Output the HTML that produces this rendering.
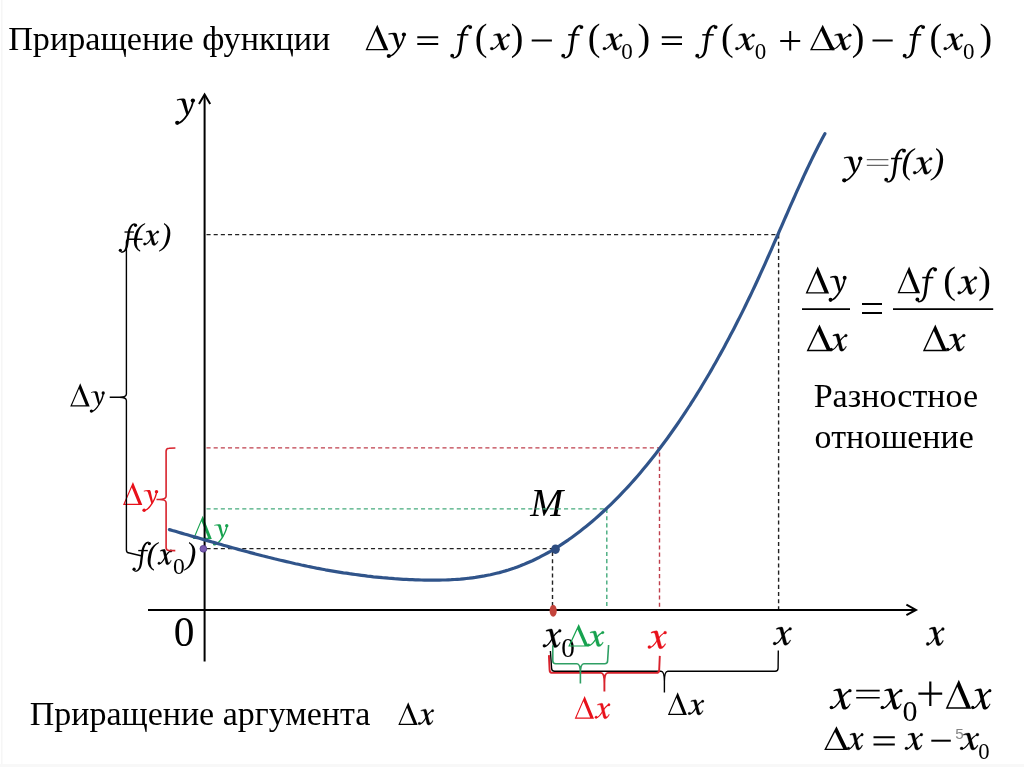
<!DOCTYPE html>
<html><head><meta charset="utf-8">
<style>
html,body{margin:0;padding:0;background:#fff;}
body{width:1024px;height:767px;overflow:hidden;}
svg{display:block;will-change:transform;}
text{font-family:"Liberation Serif",serif;}
</style></head>
<body>
<svg width="1024" height="767" viewBox="0 0 1024 767">
<rect width="1024" height="767" fill="#fff"/>
<rect x="1" y="0" width="1.5" height="767" fill="#f6f6f6"/>
<rect x="0" y="764" width="1024" height="3" fill="#f8f8f8"/>
<text x="8.20" y="49.80" font-size="34.19">Приращение функции</text>
<g transform="translate(365.50 24.70) scale(0.02290 0.02550)" fill="#000" color="#000"><path fill-rule="evenodd" d="M515 0L1000 1000H0ZM455 240L800 950H92Z"/></g>
<g transform="translate(386.60 32.60) scale(0.04790 0.04536)" fill="#000" color="#000"><path d="M36 22C78 6 130 -2 178 2C196 4 208 14 214 40L276 322L234 356L144 64C136 42 120 34 96 34C76 34 56 38 42 46Z"/><path d="M366 48C358 124 318 232 250 342C180 452 120 516 55 522" fill="none" stroke="currentColor" stroke-width="36"/><circle cx="362" cy="44" r="44"/><circle cx="46" cy="514" r="44"/></g>
<path d="M417.3 37.199999999999996H438.2M417.3 44.1H438.2" stroke="#000" stroke-width="2.0"/>
<g transform="translate(450.00 24.70) scale(0.04817 0.04723)" fill="#000" color="#000"><path d="M55 686C138 702 176 610 188 500L220 250C246 104 308 6 404 2L406 32C338 42 296 134 276 262L242 520C222 650 156 726 55 714Z"/><circle cx="46" cy="656" r="40"/><circle cx="420" cy="50" r="40"/><path d="M148 198H382V230H148Z"/></g>
<text x="474.82" y="50.09" font-size="38.00">(</text>
<g transform="translate(490.30 33.50) scale(0.03464 0.03064)" fill="#000" color="#000" stroke="#000" stroke-width="9.2"><path d="M92 50C130 26 190 4 252 2C276 2 290 16 298 46L398 432C406 468 418 482 434 478C462 470 492 432 516 388L534 400C504 462 452 542 388 546C344 548 320 524 310 484L212 98C204 68 186 58 160 58C136 58 116 64 100 72Z"/><path d="M55 512C140 500 200 420 262 320C322 214 400 86 520 58" fill="none" stroke="currentColor" stroke-width="36"/><circle cx="44" cy="494" r="46"/><circle cx="516" cy="56" r="44"/></g>
<text x="510.67" y="50.09" font-size="38.00">)</text>
<path d="M531.7 40.5H551.9" stroke="#000" stroke-width="2.0"/>
<g transform="translate(561.00 24.70) scale(0.04860 0.04723)" fill="#000" color="#000"><path d="M55 686C138 702 176 610 188 500L220 250C246 104 308 6 404 2L406 32C338 42 296 134 276 262L242 520C222 650 156 726 55 714Z"/><circle cx="46" cy="656" r="40"/><circle cx="420" cy="50" r="40"/><path d="M148 198H382V230H148Z"/></g>
<text x="587.77" y="50.09" font-size="38.00">(</text>
<g transform="translate(602.90 33.50) scale(0.03446 0.03064)" fill="#000" color="#000" stroke="#000" stroke-width="9.2"><path d="M92 50C130 26 190 4 252 2C276 2 290 16 298 46L398 432C406 468 418 482 434 478C462 470 492 432 516 388L534 400C504 462 452 542 388 546C344 548 320 524 310 484L212 98C204 68 186 58 160 58C136 58 116 64 100 72Z"/><path d="M55 512C140 500 200 420 262 320C322 214 400 86 520 58" fill="none" stroke="currentColor" stroke-width="36"/><circle cx="44" cy="494" r="46"/><circle cx="516" cy="56" r="44"/></g>
<text x="621.30" y="59.43" font-size="23.00">0</text>
<text x="637.42" y="50.09" font-size="38.00">)</text>
<path d="M661.8 37.199999999999996H682M661.8 44.1H682" stroke="#000" stroke-width="2.0"/>
<g transform="translate(695.00 24.70) scale(0.04903 0.04723)" fill="#000" color="#000"><path d="M55 686C138 702 176 610 188 500L220 250C246 104 308 6 404 2L406 32C338 42 296 134 276 262L242 520C222 650 156 726 55 714Z"/><circle cx="46" cy="656" r="40"/><circle cx="420" cy="50" r="40"/><path d="M148 198H382V230H148Z"/></g>
<text x="721.12" y="50.09" font-size="38.00">(</text>
<g transform="translate(735.40 33.50) scale(0.03446 0.03064)" fill="#000" color="#000" stroke="#000" stroke-width="9.2"><path d="M92 50C130 26 190 4 252 2C276 2 290 16 298 46L398 432C406 468 418 482 434 478C462 470 492 432 516 388L534 400C504 462 452 542 388 546C344 548 320 524 310 484L212 98C204 68 186 58 160 58C136 58 116 64 100 72Z"/><path d="M55 512C140 500 200 420 262 320C322 214 400 86 520 58" fill="none" stroke="currentColor" stroke-width="36"/><circle cx="44" cy="494" r="46"/><circle cx="516" cy="56" r="44"/></g>
<text x="754.65" y="59.43" font-size="23.00">0</text>
<path d="M780.2 40.9H800.2M790.2 31V50.5" stroke="#000" stroke-width="2.0"/>
<g transform="translate(810.00 24.70) scale(0.02470 0.02550)" fill="#000" color="#000"><path fill-rule="evenodd" d="M515 0L1000 1000H0ZM455 240L800 950H92Z"/></g>
<g transform="translate(831.20 33.50) scale(0.03607 0.03064)" fill="#000" color="#000" stroke="#000" stroke-width="9.0"><path d="M92 50C130 26 190 4 252 2C276 2 290 16 298 46L398 432C406 468 418 482 434 478C462 470 492 432 516 388L534 400C504 462 452 542 388 546C344 548 320 524 310 484L212 98C204 68 186 58 160 58C136 58 116 64 100 72Z"/><path d="M55 512C140 500 200 420 262 320C322 214 400 86 520 58" fill="none" stroke="currentColor" stroke-width="36"/><circle cx="44" cy="494" r="46"/><circle cx="516" cy="56" r="44"/></g>
<text x="851.67" y="50.09" font-size="38.00">)</text>
<path d="M872.5 40.5H892.7" stroke="#000" stroke-width="2.0"/>
<g transform="translate(902.40 24.70) scale(0.04925 0.04723)" fill="#000" color="#000"><path d="M55 686C138 702 176 610 188 500L220 250C246 104 308 6 404 2L406 32C338 42 296 134 276 262L242 520C222 650 156 726 55 714Z"/><circle cx="46" cy="656" r="40"/><circle cx="420" cy="50" r="40"/><path d="M148 198H382V230H148Z"/></g>
<text x="929.42" y="50.09" font-size="38.00">(</text>
<g transform="translate(943.70 33.50) scale(0.03446 0.03064)" fill="#000" color="#000" stroke="#000" stroke-width="9.2"><path d="M92 50C130 26 190 4 252 2C276 2 290 16 298 46L398 432C406 468 418 482 434 478C462 470 492 432 516 388L534 400C504 462 452 542 388 546C344 548 320 524 310 484L212 98C204 68 186 58 160 58C136 58 116 64 100 72Z"/><path d="M55 512C140 500 200 420 262 320C322 214 400 86 520 58" fill="none" stroke="currentColor" stroke-width="36"/><circle cx="44" cy="494" r="46"/><circle cx="516" cy="56" r="44"/></g>
<text x="963.00" y="59.43" font-size="23.00">0</text>
<text x="979.57" y="50.09" font-size="38.00">)</text>
<g transform="translate(175.00 98.50) scale(0.04938 0.04732)" fill="#000" color="#000"><path d="M36 22C78 6 130 -2 178 2C196 4 208 14 214 40L276 322L234 356L144 64C136 42 120 34 96 34C76 34 56 38 42 46Z"/><path d="M366 48C358 124 318 232 250 342C180 452 120 516 55 522" fill="none" stroke="currentColor" stroke-width="36"/><circle cx="362" cy="44" r="44"/><circle cx="46" cy="514" r="44"/></g>
<text x="173.77" y="645.89" font-size="41.33">0</text>
<g transform="translate(926.30 627.00) scale(0.03214 0.03431)" fill="#000" color="#000" stroke="#000" stroke-width="9.0"><path d="M92 50C130 26 190 4 252 2C276 2 290 16 298 46L398 432C406 468 418 482 434 478C462 470 492 432 516 388L534 400C504 462 452 542 388 546C344 548 320 524 310 484L212 98C204 68 186 58 160 58C136 58 116 64 100 72Z"/><path d="M55 512C140 500 200 420 262 320C322 214 400 86 520 58" fill="none" stroke="currentColor" stroke-width="36"/><circle cx="44" cy="494" r="46"/><circle cx="516" cy="56" r="44"/></g>
<g transform="translate(773.20 627.00) scale(0.03286 0.03339)" fill="#000" color="#000" stroke="#000" stroke-width="9.1"><path d="M92 50C130 26 190 4 252 2C276 2 290 16 298 46L398 432C406 468 418 482 434 478C462 470 492 432 516 388L534 400C504 462 452 542 388 546C344 548 320 524 310 484L212 98C204 68 186 58 160 58C136 58 116 64 100 72Z"/><path d="M55 512C140 500 200 420 262 320C322 214 400 86 520 58" fill="none" stroke="currentColor" stroke-width="36"/><circle cx="44" cy="494" r="46"/><circle cx="516" cy="56" r="44"/></g>
<g transform="translate(647.90 630.80) scale(0.03339 0.03284)" fill="#e8101a" color="#e8101a" stroke="#e8101a" stroke-width="9.1"><path d="M92 50C130 26 190 4 252 2C276 2 290 16 298 46L398 432C406 468 418 482 434 478C462 470 492 432 516 388L534 400C504 462 452 542 388 546C344 548 320 524 310 484L212 98C204 68 186 58 160 58C136 58 116 64 100 72Z"/><path d="M55 512C140 500 200 420 262 320C322 214 400 86 520 58" fill="none" stroke="currentColor" stroke-width="36"/><circle cx="44" cy="494" r="46"/><circle cx="516" cy="56" r="44"/></g>
<g transform="translate(542.90 628.90) scale(0.03268 0.03413)" fill="#000" color="#000" stroke="#000" stroke-width="9.0"><path d="M92 50C130 26 190 4 252 2C276 2 290 16 298 46L398 432C406 468 418 482 434 478C462 470 492 432 516 388L534 400C504 462 452 542 388 546C344 548 320 524 310 484L212 98C204 68 186 58 160 58C136 58 116 64 100 72Z"/><path d="M55 512C140 500 200 420 262 320C322 214 400 86 520 58" fill="none" stroke="currentColor" stroke-width="36"/><circle cx="44" cy="494" r="46"/><circle cx="516" cy="56" r="44"/></g>
<text x="561.27" y="657.13" font-size="27.11">0</text>
<g transform="translate(568.20 624.00) scale(0.02040 0.02250)" fill="#17a24f" color="#17a24f"><path fill-rule="evenodd" d="M515 0L1000 1000H0ZM455 240L800 950H92Z"/></g>
<g transform="translate(587.20 631.00) scale(0.03018 0.02844)" fill="#17a24f" color="#17a24f" stroke="#17a24f" stroke-width="10.2"><path d="M92 50C130 26 190 4 252 2C276 2 290 16 298 46L398 432C406 468 418 482 434 478C462 470 492 432 516 388L534 400C504 462 452 542 388 546C344 548 320 524 310 484L212 98C204 68 186 58 160 58C136 58 116 64 100 72Z"/><path d="M55 512C140 500 200 420 262 320C322 214 400 86 520 58" fill="none" stroke="currentColor" stroke-width="39"/><circle cx="44" cy="494" r="46"/><circle cx="516" cy="56" r="44"/></g>
<g transform="translate(574.70 695.90) scale(0.01930 0.02280)" fill="#e8101a" color="#e8101a"><path fill-rule="evenodd" d="M515 0L1000 1000H0ZM455 240L800 950H92Z"/></g>
<g transform="translate(594.90 703.20) scale(0.02714 0.02844)" fill="#e8101a" color="#e8101a" stroke="#e8101a" stroke-width="10.8"><path d="M92 50C130 26 190 4 252 2C276 2 290 16 298 46L398 432C406 468 418 482 434 478C462 470 492 432 516 388L534 400C504 462 452 542 388 546C344 548 320 524 310 484L212 98C204 68 186 58 160 58C136 58 116 64 100 72Z"/><path d="M55 512C140 500 200 420 262 320C322 214 400 86 520 58" fill="none" stroke="currentColor" stroke-width="41"/><circle cx="44" cy="494" r="46"/><circle cx="516" cy="56" r="44"/></g>
<g transform="translate(667.90 692.30) scale(0.01900 0.02260)" fill="#000" color="#000"><path fill-rule="evenodd" d="M515 0L1000 1000H0ZM455 240L800 950H92Z"/></g>
<g transform="translate(688.20 699.70) scale(0.02804 0.02789)" fill="#000" color="#000" stroke="#000" stroke-width="10.7"><path d="M92 50C130 26 190 4 252 2C276 2 290 16 298 46L398 432C406 468 418 482 434 478C462 470 492 432 516 388L534 400C504 462 452 542 388 546C344 548 320 524 310 484L212 98C204 68 186 58 160 58C136 58 116 64 100 72Z"/><path d="M55 512C140 500 200 420 262 320C322 214 400 86 520 58" fill="none" stroke="currentColor" stroke-width="41"/><circle cx="44" cy="494" r="46"/><circle cx="516" cy="56" r="44"/></g>
<text x="530.36" y="515.90" font-size="39.54" font-style="italic">M</text>
<g transform="translate(118.50 223.20) scale(0.04043 0.04128)" fill="#000" color="#000"><path d="M55 686C138 702 176 610 188 500L220 250C246 104 308 6 404 2L406 32C338 42 296 134 276 262L242 520C222 650 156 726 55 714Z"/><circle cx="46" cy="656" r="40"/><circle cx="420" cy="50" r="40"/><path d="M148 198H382V230H148Z"/></g>
<text x="132.79" y="245.37" font-size="32.50" font-style="italic">(</text>
<g transform="translate(143.50 230.40) scale(0.02750 0.02752)" fill="#000" color="#000" stroke="#000" stroke-width="10.9"><path d="M92 50C130 26 190 4 252 2C276 2 290 16 298 46L398 432C406 468 418 482 434 478C462 470 492 432 516 388L534 400C504 462 452 542 388 546C344 548 320 524 310 484L212 98C204 68 186 58 160 58C136 58 116 64 100 72Z"/><path d="M55 512C140 500 200 420 262 320C322 214 400 86 520 58" fill="none" stroke="currentColor" stroke-width="42"/><circle cx="44" cy="494" r="46"/><circle cx="516" cy="56" r="44"/></g>
<text x="160.57" y="245.37" font-size="32.50" font-style="italic">)</text>
<g transform="translate(70.20 383.20) scale(0.01950 0.02320)" fill="#000" color="#000"><path fill-rule="evenodd" d="M515 0L1000 1000H0ZM455 240L800 950H92Z"/></g>
<g transform="translate(89.70 391.30) scale(0.03728 0.03857)" fill="#000" color="#000"><path d="M36 22C78 6 130 -2 178 2C196 4 208 14 214 40L276 322L234 356L144 64C136 42 120 34 96 34C76 34 56 38 42 46Z"/><path d="M366 48C358 124 318 232 250 342C180 452 120 516 55 522" fill="none" stroke="currentColor" stroke-width="36"/><circle cx="362" cy="44" r="44"/><circle cx="46" cy="514" r="44"/></g>
<g transform="translate(123.00 482.00) scale(0.01930 0.02300)" fill="#e8101a" color="#e8101a"><path fill-rule="evenodd" d="M515 0L1000 1000H0ZM455 240L800 950H92Z"/></g>
<g transform="translate(142.30 489.90) scale(0.03926 0.03946)" fill="#e8101a" color="#e8101a"><path d="M36 22C78 6 130 -2 178 2C196 4 208 14 214 40L276 322L234 356L144 64C136 42 120 34 96 34C76 34 56 38 42 46Z"/><path d="M366 48C358 124 318 232 250 342C180 452 120 516 55 522" fill="none" stroke="currentColor" stroke-width="36"/><circle cx="362" cy="44" r="44"/><circle cx="46" cy="514" r="44"/></g>
<g transform="translate(193.00 515.70) scale(0.01880 0.02330)" fill="#17a24f" color="#17a24f"><path fill-rule="evenodd" d="M515 0L1000 1000H0ZM455 240L800 950H92Z"/></g>
<g transform="translate(212.80 524.10) scale(0.03852 0.03857)" fill="#17a24f" color="#17a24f"><path d="M36 22C78 6 130 -2 178 2C196 4 208 14 214 40L276 322L234 356L144 64C136 42 120 34 96 34C76 34 56 38 42 46Z"/><path d="M366 48C358 124 318 232 250 342C180 452 120 516 55 522" fill="none" stroke="currentColor" stroke-width="36"/><circle cx="362" cy="44" r="44"/><circle cx="46" cy="514" r="44"/></g>
<g transform="translate(132.20 541.50) scale(0.04086 0.04241)" fill="#000" color="#000"><path d="M55 686C138 702 176 610 188 500L220 250C246 104 308 6 404 2L406 32C338 42 296 134 276 262L242 520C222 650 156 726 55 714Z"/><circle cx="46" cy="656" r="40"/><circle cx="420" cy="50" r="40"/><path d="M148 198H382V230H148Z"/></g>
<text x="146.54" y="564.27" font-size="32.50" font-style="italic">(</text>
<g transform="translate(157.90 549.30) scale(0.02518 0.02826)" fill="#000" color="#000" stroke="#000" stroke-width="11.2"><path d="M92 50C130 26 190 4 252 2C276 2 290 16 298 46L398 432C406 468 418 482 434 478C462 470 492 432 516 388L534 400C504 462 452 542 388 546C344 548 320 524 310 484L212 98C204 68 186 58 160 58C136 58 116 64 100 72Z"/><path d="M55 512C140 500 200 420 262 320C322 214 400 86 520 58" fill="none" stroke="currentColor" stroke-width="43"/><circle cx="44" cy="494" r="46"/><circle cx="516" cy="56" r="44"/></g>
<text x="173.11" y="573.66" font-size="23.56">0</text>
<text x="185.62" y="564.27" font-size="32.50" font-style="italic">)</text>
<g transform="translate(842.00 156.50) scale(0.05037 0.04643)" fill="#000" color="#000"><path d="M36 22C78 6 130 -2 178 2C196 4 208 14 214 40L276 322L234 356L144 64C136 42 120 34 96 34C76 34 56 38 42 46Z"/><path d="M366 48C358 124 318 232 250 342C180 452 120 516 55 522" fill="none" stroke="currentColor" stroke-width="36"/><circle cx="362" cy="44" r="44"/><circle cx="46" cy="514" r="44"/></g>
<path d="M866.8 159.7H888.4M866.8 165.4H888.4" stroke="#666" stroke-width="1.3"/>
<g transform="translate(884.00 148.30) scale(0.04774 0.04780)" fill="#000" color="#000"><path d="M55 686C138 702 176 610 188 500L220 250C246 104 308 6 404 2L406 32C338 42 296 134 276 262L242 520C222 650 156 726 55 714Z"/><circle cx="46" cy="656" r="40"/><circle cx="420" cy="50" r="40"/><path d="M148 198H382V230H148Z"/></g>
<text x="901.47" y="173.46" font-size="36.00" font-style="italic">(</text>
<g transform="translate(913.20 157.10) scale(0.03393 0.03156)" fill="#000" color="#000" stroke="#000" stroke-width="9.2"><path d="M92 50C130 26 190 4 252 2C276 2 290 16 298 46L398 432C406 468 418 482 434 478C462 470 492 432 516 388L534 400C504 462 452 542 388 546C344 548 320 524 310 484L212 98C204 68 186 58 160 58C136 58 116 64 100 72Z"/><path d="M55 512C140 500 200 420 262 320C322 214 400 86 520 58" fill="none" stroke="currentColor" stroke-width="36"/><circle cx="44" cy="494" r="46"/><circle cx="516" cy="56" r="44"/></g>
<text x="932.17" y="173.46" font-size="36.00" font-style="italic">)</text>
<g transform="translate(805.60 266.40) scale(0.02350 0.02720)" fill="#000" color="#000"><path fill-rule="evenodd" d="M515 0L1000 1000H0ZM455 240L800 950H92Z"/></g>
<g transform="translate(828.50 275.80) scale(0.04469 0.04679)" fill="#000" color="#000"><path d="M36 22C78 6 130 -2 178 2C196 4 208 14 214 40L276 322L234 356L144 64C136 42 120 34 96 34C76 34 56 38 42 46Z"/><path d="M366 48C358 124 318 232 250 342C180 452 120 516 55 522" fill="none" stroke="currentColor" stroke-width="36"/><circle cx="362" cy="44" r="44"/><circle cx="46" cy="514" r="44"/></g>
<g transform="translate(806.60 324.60) scale(0.02500 0.02660)" fill="#000" color="#000"><path fill-rule="evenodd" d="M515 0L1000 1000H0ZM455 240L800 950H92Z"/></g>
<g transform="translate(829.90 333.80) scale(0.03107 0.03193)" fill="#000" color="#000" stroke="#000" stroke-width="9.5"><path d="M92 50C130 26 190 4 252 2C276 2 290 16 298 46L398 432C406 468 418 482 434 478C462 470 492 432 516 388L534 400C504 462 452 542 388 546C344 548 320 524 310 484L212 98C204 68 186 58 160 58C136 58 116 64 100 72Z"/><path d="M55 512C140 500 200 420 262 320C322 214 400 86 520 58" fill="none" stroke="currentColor" stroke-width="37"/><circle cx="44" cy="494" r="46"/><circle cx="516" cy="56" r="44"/></g>
<path d="M862 304.0H882M862 313.0H882" stroke="#000" stroke-width="2"/>
<g transform="translate(897.50 266.40) scale(0.02260 0.02690)" fill="#000" color="#000"><path fill-rule="evenodd" d="M515 0L1000 1000H0ZM455 240L800 950H92Z"/></g>
<g transform="translate(915.20 267.00) scale(0.04753 0.04950)" fill="#000" color="#000"><path d="M55 686C138 702 176 610 188 500L220 250C246 104 308 6 404 2L406 32C338 42 296 134 276 262L242 520C222 650 156 726 55 714Z"/><circle cx="46" cy="656" r="40"/><circle cx="420" cy="50" r="40"/><path d="M148 198H382V230H148Z"/></g>
<text x="943.27" y="293.04" font-size="38.00">(</text>
<g transform="translate(957.70 276.10) scale(0.03446 0.03358)" fill="#000" color="#000" stroke="#000" stroke-width="8.8"><path d="M92 50C130 26 190 4 252 2C276 2 290 16 298 46L398 432C406 468 418 482 434 478C462 470 492 432 516 388L534 400C504 462 452 542 388 546C344 548 320 524 310 484L212 98C204 68 186 58 160 58C136 58 116 64 100 72Z"/><path d="M55 512C140 500 200 420 262 320C322 214 400 86 520 58" fill="none" stroke="currentColor" stroke-width="36"/><circle cx="44" cy="494" r="46"/><circle cx="516" cy="56" r="44"/></g>
<text x="978.22" y="293.04" font-size="38.00">)</text>
<g transform="translate(922.90 324.60) scale(0.02410 0.02660)" fill="#000" color="#000"><path fill-rule="evenodd" d="M515 0L1000 1000H0ZM455 240L800 950H92Z"/></g>
<g transform="translate(946.20 333.80) scale(0.03411 0.03193)" fill="#000" color="#000" stroke="#000" stroke-width="9.1"><path d="M92 50C130 26 190 4 252 2C276 2 290 16 298 46L398 432C406 468 418 482 434 478C462 470 492 432 516 388L534 400C504 462 452 542 388 546C344 548 320 524 310 484L212 98C204 68 186 58 160 58C136 58 116 64 100 72Z"/><path d="M55 512C140 500 200 420 262 320C322 214 400 86 520 58" fill="none" stroke="currentColor" stroke-width="36"/><circle cx="44" cy="494" r="46"/><circle cx="516" cy="56" r="44"/></g>
<path d="M802 309.1H850M893 309.1H993.2" stroke="#000" stroke-width="1.6"/>
<text x="813.70" y="407.10" font-size="34.06">Разностное</text>
<text x="814.60" y="448.10" font-size="33.97">отношение</text>
<text x="29.70" y="725.40" font-size="33.99">Приращение аргумента</text>
<g transform="translate(398.30 702.30) scale(0.01930 0.02270)" fill="#000" color="#000"><path fill-rule="evenodd" d="M515 0L1000 1000H0ZM455 240L800 950H92Z"/></g>
<g transform="translate(418.20 709.10) scale(0.02786 0.02917)" fill="#000" color="#000" stroke="#000" stroke-width="10.5"><path d="M92 50C130 26 190 4 252 2C276 2 290 16 298 46L398 432C406 468 418 482 434 478C462 470 492 432 516 388L534 400C504 462 452 542 388 546C344 548 320 524 310 484L212 98C204 68 186 58 160 58C136 58 116 64 100 72Z"/><path d="M55 512C140 500 200 420 262 320C322 214 400 86 520 58" fill="none" stroke="currentColor" stroke-width="40"/><circle cx="44" cy="494" r="46"/><circle cx="516" cy="56" r="44"/></g>
<g transform="translate(829.70 688.50) scale(0.03911 0.03853)" fill="#000" color="#000"><path d="M92 50C130 26 190 4 252 2C276 2 290 16 298 46L398 432C406 468 418 482 434 478C462 470 492 432 516 388L534 400C504 462 452 542 388 546C344 548 320 524 310 484L212 98C204 68 186 58 160 58C136 58 116 64 100 72Z"/><path d="M55 512C140 500 200 420 262 320C322 214 400 86 520 58" fill="none" stroke="currentColor" stroke-width="36"/><circle cx="44" cy="494" r="46"/><circle cx="516" cy="56" r="44"/></g>
<path d="M856.2 690.6H879.7M856.2 697.8000000000001H879.7" stroke="#000" stroke-width="1.6"/>
<g transform="translate(880.60 688.50) scale(0.03929 0.03853)" fill="#000" color="#000"><path d="M92 50C130 26 190 4 252 2C276 2 290 16 298 46L398 432C406 468 418 482 434 478C462 470 492 432 516 388L534 400C504 462 452 542 388 546C344 548 320 524 310 484L212 98C204 68 186 58 160 58C136 58 116 64 100 72Z"/><path d="M55 512C140 500 200 420 262 320C322 214 400 86 520 58" fill="none" stroke="currentColor" stroke-width="36"/><circle cx="44" cy="494" r="46"/><circle cx="516" cy="56" r="44"/></g>
<text x="902.62" y="720.70" font-size="29.93">0</text>
<path d="M918.4 693.7H942.2M930.3 681.4V706" stroke="#000" stroke-width="2.2"/>
<g transform="translate(945.70 679.70) scale(0.02550 0.02900)" fill="#000" color="#000"><path fill-rule="evenodd" d="M515 0L1000 1000H0ZM455 240L800 950H92Z"/></g>
<g transform="translate(971.20 688.50) scale(0.03607 0.03853)" fill="#000" color="#000"><path d="M92 50C130 26 190 4 252 2C276 2 290 16 298 46L398 432C406 468 418 482 434 478C462 470 492 432 516 388L534 400C504 462 452 542 388 546C344 548 320 524 310 484L212 98C204 68 186 58 160 58C136 58 116 64 100 72Z"/><path d="M55 512C140 500 200 420 262 320C322 214 400 86 520 58" fill="none" stroke="currentColor" stroke-width="36"/><circle cx="44" cy="494" r="46"/><circle cx="516" cy="56" r="44"/></g>
<g transform="translate(824.20 726.20) scale(0.02380 0.02380)" fill="#000" color="#000"><path fill-rule="evenodd" d="M515 0L1000 1000H0ZM455 240L800 950H92Z"/></g>
<g transform="translate(847.20 733.00) scale(0.02875 0.03119)" fill="#000" color="#000" stroke="#000" stroke-width="10.0"><path d="M92 50C130 26 190 4 252 2C276 2 290 16 298 46L398 432C406 468 418 482 434 478C462 470 492 432 516 388L534 400C504 462 452 542 388 546C344 548 320 524 310 484L212 98C204 68 186 58 160 58C136 58 116 64 100 72Z"/><path d="M55 512C140 500 200 420 262 320C322 214 400 86 520 58" fill="none" stroke="currentColor" stroke-width="38"/><circle cx="44" cy="494" r="46"/><circle cx="516" cy="56" r="44"/></g>
<path d="M873.5 737.3000000000001H894.8M873.5 744.4H894.8" stroke="#000" stroke-width="2"/>
<g transform="translate(905.00 733.00) scale(0.03179 0.03119)" fill="#000" color="#000" stroke="#000" stroke-width="9.5"><path d="M92 50C130 26 190 4 252 2C276 2 290 16 298 46L398 432C406 468 418 482 434 478C462 470 492 432 516 388L534 400C504 462 452 542 388 546C344 548 320 524 310 484L212 98C204 68 186 58 160 58C136 58 116 64 100 72Z"/><path d="M55 512C140 500 200 420 262 320C322 214 400 86 520 58" fill="none" stroke="currentColor" stroke-width="37"/><circle cx="44" cy="494" r="46"/><circle cx="516" cy="56" r="44"/></g>
<path d="M931.3 740.7H950.8" stroke="#000" stroke-width="2.0"/>
<text x="955.13" y="738.55" font-size="15.19" font-family="Liberation Sans" style="font-family:'Liberation Sans',sans-serif" fill="#858585">5</text>
<g transform="translate(960.20 733.00) scale(0.03339 0.03119)" fill="#000" color="#000" stroke="#000" stroke-width="9.3"><path d="M92 50C130 26 190 4 252 2C276 2 290 16 298 46L398 432C406 468 418 482 434 478C462 470 492 432 516 388L534 400C504 462 452 542 388 546C344 548 320 524 310 484L212 98C204 68 186 58 160 58C136 58 116 64 100 72Z"/><path d="M55 512C140 500 200 420 262 320C322 214 400 86 520 58" fill="none" stroke="currentColor" stroke-width="36"/><circle cx="44" cy="494" r="46"/><circle cx="516" cy="56" r="44"/></g>
<text x="978.33" y="759.17" font-size="22.67">0</text>
<g fill="none" stroke-width="1.4" stroke-dasharray="4.1 3.05">
  <path d="M206.5 234.6H778.6V610" stroke="#222"/>
  <path d="M206.5 447.9H659.5V610" stroke="#bf3f4c"/>
  <path d="M206.5 508.9H606.8V610" stroke="#45ab7c"/>
  <path d="M206.5 548.6H553M552.5 552V610" stroke="#222"/>
</g>
<g stroke="#000" stroke-width="2" fill="none">
  <path d="M204.6 661.5V95"/>
  <path d="M199 104L204.6 94.5L210.2 104"/>
  <path d="M148 609.9H915"/>
  <path d="M906.4 604.6L916 609.9L906.4 615.2"/>
</g>
<path d="M142.5 239.3L129.4 239.3Q126.4 239.3 126.4 242.3V394.1C126.4 396.34000000000003 123.60000000000001 397.3 119.4 397.3L109.7 397.3M119.4 397.3C123.60000000000001 397.3 126.4 398.26 126.4 400.5V550.0Q126.4 553.0 129.4 553.0L141.0 555.7" fill="none" stroke="#000" stroke-width="1.4" stroke-linejoin="round"/>
<path d="M175.4 448.0L169.1 448.3Q166.1 448.3 166.1 451.3V496.3C166.1 498.54 163.29999999999998 499.5 159.1 499.5L156.5 499.5M159.1 499.5C163.29999999999998 499.5 166.1 500.46 166.1 502.7V547.5Q166.1 550.5 169.1 550.5L175.3 550.6" fill="none" stroke="#d8222c" stroke-width="1.6" stroke-linejoin="round"/>
<path d="M550.4 651.0L551.6 668.3Q551.6 671.3 554.6 671.3H661.0C663.38 671.3 664.4 675.3 664.4 681.3V692.5M664.4 681.3C664.4 675.3 665.42 671.3 667.8 671.3H775.1Q778.1 671.3 778.1 668.3L778.3 650.4" fill="none" stroke="#000" stroke-width="1.4" stroke-linejoin="round"/>
<path d="M548.9 655.1L549.6 669.9Q549.6 672.9 552.6 672.9H601.0C603.38 672.9 604.4 676.9 604.4 682.9V691.4M604.4 682.9C604.4 676.9 605.42 672.9 607.8 672.9H656.2Q659.2 672.9 659.2 669.9L659.8 655.9" fill="none" stroke="#d8222c" stroke-width="1.9" stroke-linejoin="round"/>
<path d="M552.8 645.2L552.8 660.7Q552.8 663.7 555.8 663.7H577.0C579.38 663.7 580.4 667.7 580.4 673.7V683.6M580.4 673.7C580.4 667.7 581.42 663.7 583.8 663.7H604.6Q607.6 663.7 607.6 660.7L608.6 645.0" fill="none" stroke="#2f9f64" stroke-width="1.6" stroke-linejoin="round"/>
<path d="M169.4 529.6 L172.4 530.5 L175.4 531.3 L178.4 532.2 L181.4 533.1 L184.4 534.0 L187.4 534.8 L190.4 535.7 L193.4 536.6 L196.4 537.4 L199.4 538.3 L202.4 539.2 L205.4 540.1 L208.4 540.9 L211.4 541.8 L214.4 542.6 L217.4 543.5 L220.4 544.3 L223.4 545.2 L226.4 546.0 L229.4 546.9 L232.4 547.7 L235.4 548.5 L238.4 549.4 L241.4 550.2 L244.4 551.0 L247.4 551.8 L250.4 552.6 L253.4 553.4 L256.4 554.2 L259.4 555.0 L262.4 555.8 L265.4 556.5 L268.4 557.3 L271.4 558.0 L274.4 558.8 L277.4 559.5 L280.4 560.2 L283.4 560.9 L286.4 561.6 L289.4 562.3 L292.4 563.0 L295.4 563.7 L298.4 564.3 L301.4 565.0 L304.4 565.6 L307.4 566.3 L310.4 566.9 L313.4 567.5 L316.4 568.1 L319.4 568.6 L322.4 569.2 L325.4 569.8 L328.4 570.3 L331.4 570.8 L334.4 571.3 L337.4 571.8 L340.4 572.3 L343.4 572.8 L346.4 573.2 L349.4 573.7 L352.4 574.1 L355.4 574.5 L358.4 574.9 L361.4 575.3 L364.4 575.7 L367.4 576.1 L370.4 576.4 L373.4 576.8 L376.4 577.1 L379.4 577.4 L382.4 577.7 L385.4 577.9 L388.4 578.2 L391.4 578.4 L394.4 578.7 L397.4 578.9 L400.4 579.1 L403.4 579.3 L406.4 579.4 L409.4 579.6 L412.4 579.7 L415.4 579.8 L418.4 579.9 L421.4 580.0 L424.4 580.1 L427.4 580.1 L430.4 580.2 L433.4 580.2 L436.4 580.1 L439.4 580.1 L442.4 580.0 L445.4 580.0 L448.4 579.8 L451.4 579.7 L454.4 579.5 L457.4 579.3 L460.4 579.1 L463.4 578.8 L466.4 578.5 L469.4 578.2 L472.4 577.8 L475.4 577.4 L478.4 576.9 L481.4 576.4 L484.4 575.9 L487.4 575.3 L490.4 574.7 L493.4 574.0 L496.4 573.3 L499.4 572.6 L502.4 571.7 L505.4 570.9 L508.4 570.0 L511.4 569.0 L514.4 568.0 L517.4 566.9 L520.4 565.8 L523.4 564.6 L526.4 563.3 L529.4 562.0 L532.4 560.7 L535.4 559.2 L538.4 557.8 L541.4 556.2 L544.4 554.6 L547.4 553.0 L550.4 551.3 L553.4 549.5 L556.4 547.7 L559.4 545.8 L562.4 543.8 L565.4 541.8 L568.4 539.8 L571.4 537.7 L574.4 535.5 L577.4 533.3 L580.4 531.0 L583.4 528.6 L586.4 526.2 L589.4 523.7 L592.4 521.2 L595.4 518.6 L598.4 516.0 L601.4 513.3 L604.4 510.5 L607.4 507.7 L610.4 504.8 L613.4 501.9 L616.4 498.9 L619.4 495.8 L622.4 492.7 L625.4 489.5 L628.4 486.3 L631.4 483.0 L634.4 479.6 L637.4 476.2 L640.4 472.7 L643.4 469.1 L646.4 465.5 L649.4 461.8 L652.4 458.0 L655.4 454.2 L658.4 450.3 L661.4 446.3 L664.4 442.3 L667.4 438.2 L670.4 434.0 L673.4 429.8 L676.4 425.5 L679.4 421.1 L682.4 416.7 L685.4 412.1 L688.4 407.5 L690.0 405.1 L691.5 402.7 L693.0 400.4 L694.5 398.0 L696.0 395.6 L697.5 393.2 L699.0 390.7 L700.5 388.3 L702.0 385.8 L703.5 383.3 L705.0 380.8 L706.5 378.3 L708.0 375.7 L709.5 373.2 L711.0 370.6 L712.5 368.0 L714.0 365.3 L715.5 362.7 L717.0 360.0 L718.5 357.3 L720.0 354.6 L721.5 351.9 L723.0 349.2 L724.5 346.4 L726.0 343.6 L727.5 340.8 L729.0 338.0 L730.5 335.1 L732.0 332.3 L733.5 329.4 L735.0 326.5 L736.5 323.5 L738.0 320.6 L739.5 317.6 L741.0 314.6 L742.5 311.6 L744.0 308.6 L745.5 305.5 L747.0 302.4 L748.5 299.3 L750.0 296.2 L751.5 293.1 L753.0 289.9 L754.5 286.7 L756.0 283.5 L757.5 280.3 L759.0 277.0 L760.5 273.7 L762.0 270.4 L763.5 267.1 L765.0 263.8 L766.5 260.4 L768.0 257.0 L769.5 253.7 L771.0 250.3 L772.5 246.9 L774.0 243.4 L775.5 240.0 L777.0 236.6 L778.5 233.1 L780.0 229.7 L781.5 226.3 L783.0 222.8 L784.5 219.4 L786.0 216.0 L787.5 212.6 L789.0 209.1 L790.5 205.7 L792.0 202.3 L793.5 199.0 L795.0 195.6 L796.5 192.2 L798.0 188.9 L799.5 185.6 L801.0 182.3 L802.5 179.0 L804.0 175.7 L805.5 172.5 L807.0 169.3 L808.5 166.1 L810.0 163.0 L811.5 159.9 L813.0 156.8 L814.5 153.7 L816.0 150.7 L817.5 147.7 L819.0 144.8 L820.5 141.9 L822.0 139.1 L823.5 136.3 L824.9 133.7" fill="none" stroke="#30548a" stroke-width="3.2" stroke-linecap="round" stroke-linejoin="round"/>
<circle cx="203.4" cy="548.8" r="3.4" fill="#7a5cb0" stroke="#56408c" stroke-width="0.9"/>
<ellipse cx="555.5" cy="549.2" rx="4.3" ry="4.8" fill="#2d4c80"/>
<ellipse cx="553.2" cy="610.8" rx="3.6" ry="6" fill="#c4443c"/>
</svg>
</body></html>
